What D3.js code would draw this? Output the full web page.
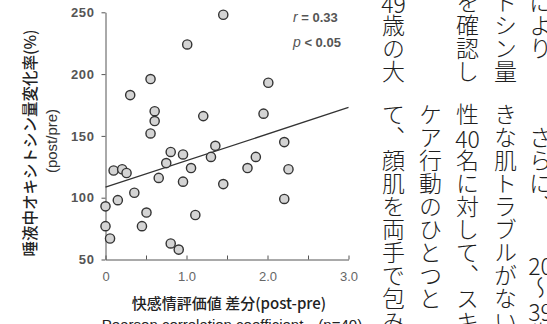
<!DOCTYPE html>
<html><head><meta charset="utf-8">
<script src="https://cdn.jsdelivr.net/npm/d3@7"></script>
<style>
html,body{margin:0;padding:0;background:#fff;overflow:hidden;}
#wrap{position:relative;width:547px;height:324px;overflow:hidden;}
svg{position:absolute;left:0;top:0;}
.vcol{position:absolute;writing-mode:vertical-rl;font-family:"Noto Sans CJK JP",sans-serif;font-size:23px;line-height:23px;width:23px;color:#1e1e1e;white-space:nowrap;font-weight:300;}
.tcy{text-combine-upright:all;}
</style></head>
<body><div id="wrap"><svg id="chart" width="547" height="324"></svg></div>
<script>
// ---- data ----
const pleasureDiff = [0,0,0.056,0.10,0.206,0.26,0.152,0.305,0.356,0.45,0.506,0.556,0.556,0.607,0.607,0.657,0.75,0.805,0.805,0.904,0.957,0.957,1.009,1.056,1.109,1.207,1.302,1.356,1.454,1.454,1.753,1.856,1.951,2.01,2.207,2.259,2.207];
const oxytocinChange = [93,77,67,122,123,120,98,183,104,77,88,196,152,170,162,116,128,137,63,58,135,113,224,124,86,166,133,142,248,111,124,133,168,193,145,123,99];
const fitX = [0,3.0];
const fitY = [108.5,173];
const xTicks = [0,0.5,1.0,1.5,2.0,2.5,3.0];
const xTickLabels = ["0","","1.0","","2.0","","3.0"];
const yTicks = [50,100,150,200,250];
const yTitle1 = "唾液中オキシトシン量変化率(%)";
const yTitle2 = "(post/pre)";
const xTitle1 = "快感情評価値 差分(post-pre)";
const xTitle2 = "Pearson correlation coefficient\u3000(n=40)";
const statR = "0.33";
const statP = "0.05";
// surrounding page text (vertical columns, right to left)
const colX = [540,505,467,430,393];
const topTier = ["により","トシン量","を確認し","","49歳の大"];
const bottomTier = ["\u3000さらに、\u3000\u300020〜39歳の","きな肌トラブルがない女","性40名に対して、スキ","ケア行動のひとつと","て、顔肌を両手で包み"];

const svg = d3.select("#chart");
const x = d3.scaleLinear().domain([0,3]).range([105.5,348.5]);
const y = d3.scaleLinear().domain([50,250]).range([259.5,12.3]);

// y axis
const gy = svg.append("g").attr("transform",`translate(${x(0)},0)`)
  .call(d3.axisLeft(y).tickValues(yTicks).tickSizeInner(4).tickSizeOuter(0).tickPadding(7));
gy.select(".domain").attr("stroke","#555");
gy.selectAll(".tick line").attr("stroke","#555");
gy.selectAll(".tick text").attr("font-family","Liberation Sans, Arial, sans-serif")
  .attr("font-size",13).attr("font-weight","bold").attr("fill","#555").attr("letter-spacing","0.6");

// x axis
const gx = svg.append("g").attr("transform",`translate(0,${y(50)})`)
  .call(d3.axisBottom(x).tickValues(xTicks).tickFormat((d,i)=>xTickLabels[i]).tickSizeInner(-4).tickSizeOuter(0).tickPadding(12));
gx.select(".domain").attr("stroke","#555");
gx.selectAll(".tick line").attr("stroke","#555");
gx.selectAll(".tick text").attr("font-family","Liberation Sans, Arial, sans-serif")
  .attr("font-size",13).attr("fill","#666");

// regression line
svg.append("line")
  .attr("x1",x(fitX[0])).attr("y1",y(fitY[0]))
  .attr("x2",x(fitX[1])).attr("y2",y(fitY[1]))
  .attr("stroke","#333").attr("stroke-width",1.3);

// points
svg.append("g").selectAll("circle").data(pleasureDiff.map((d,i)=>[d,oxytocinChange[i]]))
  .join("circle")
  .attr("cx",d=>x(d[0])).attr("cy",d=>y(d[1])).attr("r",4.6)
  .attr("fill","#d4d4d4").attr("stroke","#333").attr("stroke-width",1.4);

// stats
const st = svg.append("g").attr("font-family","Liberation Sans, Arial, sans-serif").attr("font-size",13).attr("fill","#555").attr("font-weight","bold");
const t1 = st.append("text").attr("x",293).attr("y",22);
t1.append("tspan").attr("font-style","italic").attr("font-weight","normal").attr("font-size",14).text("r");
t1.append("tspan").text(" = "+statR);
const t2 = st.append("text").attr("x",293).attr("y",47);
t2.append("tspan").attr("font-style","italic").attr("font-weight","normal").attr("font-size",14).text("p");
t2.append("tspan").text(" < "+statP);

// axis titles
svg.append("text").attr("transform","translate(36,143) rotate(-90)").attr("text-anchor","middle")
  .attr("font-family","Noto Sans CJK JP, sans-serif").attr("font-size",15.5).attr("font-weight","500").attr("fill","#222")
  .text(yTitle1);
svg.append("text").attr("transform","translate(57,141) rotate(-90)").attr("text-anchor","middle")
  .attr("font-family","Liberation Sans, Arial, sans-serif").attr("font-size",15).attr("fill","#333")
  .text(yTitle2);
svg.append("text").attr("x",229).attr("y",309).attr("text-anchor","middle")
  .attr("font-family","Noto Sans CJK JP, sans-serif").attr("font-size",15).attr("font-weight","500").attr("fill","#222")
  .text(xTitle1);
svg.append("text").attr("x",232).attr("y",330).attr("text-anchor","middle")
  .attr("font-family","Liberation Sans, Arial, sans-serif").attr("font-size",15).attr("fill","#222")
  .text(xTitle2);

// page text columns
const wrap = d3.select("#wrap");
function addCol(txt, cx, top){
  const div = wrap.append("div").attr("class","vcol").style("left",(cx-11.5)+"px").style("top",top+"px");
  const parts = txt.split(/(\d+)/);
  parts.forEach(p=>{ if(!p) return; const s = div.append("span").text(p); if(/^\d+$/.test(p)) s.attr("class","tcy"); });
}
colX.forEach((cx,i)=>{ if(topTier[i]) addCol(topTier[i],cx,-9); addCol(bottomTier[i],cx,103); });
</script></body></html>
